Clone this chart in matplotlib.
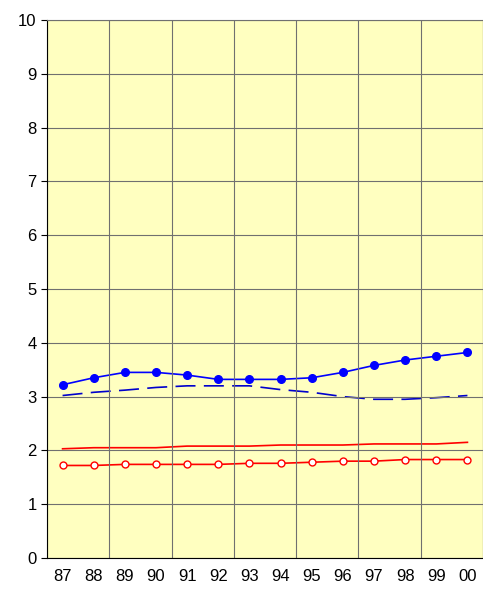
import matplotlib
matplotlib.use("Agg")
import matplotlib.pyplot as plt
import numpy as np

years = ["87","88","89","90","91","92","93","94","95","96","97","98","99","00"]
blue_dots = [3.22,3.35,3.45,3.45,3.40,3.32,3.32,3.32,3.35,3.45,3.58,3.68,3.75,3.82]
blue_dash = [3.02,3.08,3.12,3.17,3.20,3.20,3.20,3.13,3.08,3.00,2.95,2.95,2.98,3.02]
red_line = [2.03,2.05,2.05,2.05,2.08,2.08,2.08,2.10,2.10,2.10,2.12,2.12,2.12,2.15]
red_open = [1.72,1.72,1.74,1.74,1.74,1.74,1.76,1.76,1.78,1.80,1.80,1.83,1.83,1.83]

fig = plt.figure(figsize=(4.83,5.96), dpi=100)
ax = fig.add_axes([47/483, 38/596, 436/483, 538/596])
ax.set_facecolor("#FFFFC0")
x = np.arange(len(years))
ax.plot(x, blue_dots, color="#0000FF", marker="o", ms=5.5, lw=1.2)
ax.plot(x, blue_dash, color="#0000CC", lw=1.2, dashes=(12,5))
ax.plot(x, red_line, color="#FF0000", lw=1.2)
ax.plot(x, red_open, color="#FF0000", marker="o", ms=5, mfc="white", lw=1.2)
ax.set_xlim(-0.5, len(years)-0.5)
ax.set_ylim(0,10)
ax.set_yticks(range(11))
ax.set_xticks(x)
ax.set_xticklabels(years)
for gx in np.arange(-0.5, len(years), 2):
    ax.axvline(gx, color="#707070", lw=0.8)
for gy in range(11):
    ax.axhline(gy, color="#707070", lw=0.8)
for s in ax.spines.values():
    s.set_color("#707070")
ax.spines['left'].set_color("black")
ax.spines['bottom'].set_color("black")
ax.tick_params(axis='x', length=0, labelsize=12, pad=8)
ax.tick_params(axis='y', length=4, labelsize=12)
for t in ax.get_xticklabels()+ax.get_yticklabels():
    t.set_family("Liberation Sans")
fig.savefig("out.png", dpi=100)
